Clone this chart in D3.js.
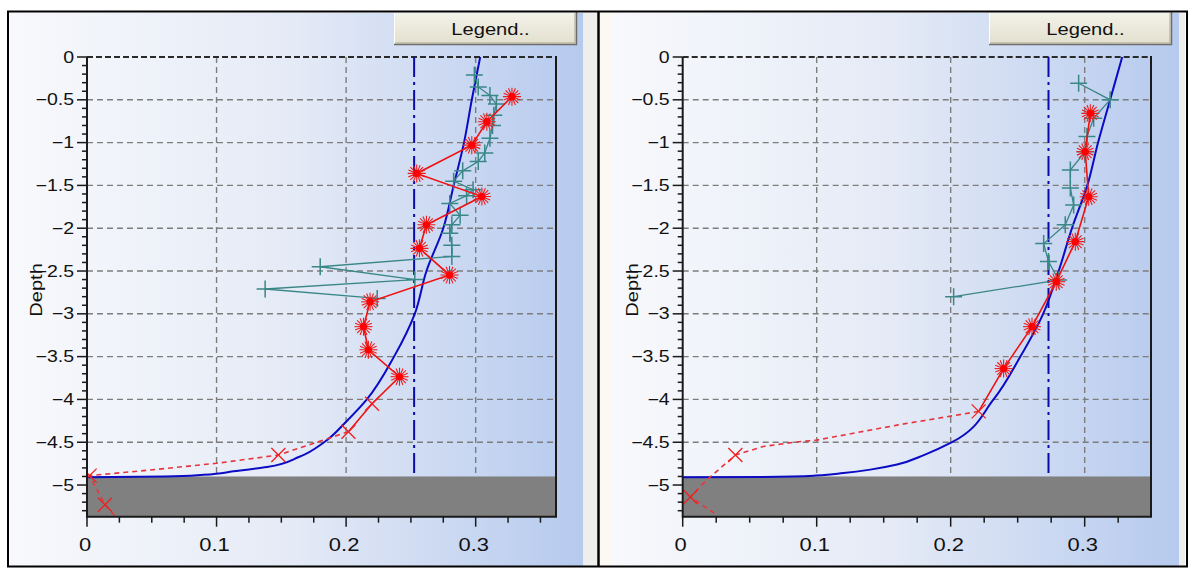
<!DOCTYPE html>
<html><head><meta charset="utf-8">
<script src="https://cdn.jsdelivr.net/npm/d3@7"></script>
<style>body{margin:0;background:#fff}svg{display:block}</style></head>
<body><svg id="c" width="1194" height="570"></svg>
<script>
// ---------- data ----------
const depthMajorTicks = [0,-0.5,-1,-1.5,-2,-2.5,-3,-3.5,-4,-4.5,-5];
const xMajorTicks = [0,0.1,0.2,0.3];
const depthMin = -5.37;
const bedrockDepth = -4.9;
const leftXMax = 0.362;
const rightXMax = 0.3495;
const leftRefX = 0.2525;
const rightRefX = 0.273;

const leftModel = [[0.3035,0],[0.297,-0.5],[0.291,-1.0],[0.283,-1.5],[0.275,-2.0],[0.262,-2.5],[0.253,-3.0],[0.237,-3.5],[0.216,-4.0],[0.200,-4.26],[0.183,-4.5],[0.164,-4.67],[0.139,-4.79],[0.113,-4.84],[0.09,-4.88],[0.06,-4.9],[0.0,-4.91]];
const rightModel = [[0.328,0],[0.319,-0.5],[0.310,-1.0],[0.302,-1.5],[0.2905,-2.0],[0.2806,-2.5],[0.269,-3.0],[0.252,-3.5],[0.232,-4.0],[0.201,-4.5],[0.180,-4.65],[0.16,-4.76],[0.14,-4.82],[0.12,-4.86],[0.099,-4.89],[0.06,-4.905],[0.0,-4.91]];

const leftProbe = [[0.299,-0.21],[0.302,-0.35],[0.311,-0.45],[0.316,-0.55],[0.314,-0.68],[0.313,-0.8],[0.311,-0.95],[0.307,-1.12],[0.302,-1.22],[0.29,-1.33],[0.283,-1.45],[0.298,-1.55],[0.293,-1.62],[0.28,-1.71],[0.288,-1.85],[0.2816,-1.96],[0.28,-2.06],[0.2816,-2.2],[0.2816,-2.33],[0.18,-2.45],[0.253,-2.6],[0.1375,-2.71],[0.224,-2.82]];
const rightProbe = [[0.2955,-0.307],[0.319,-0.50],[0.3067,-0.716],[0.3017,-0.93],[0.3004,-1.106],[0.2893,-1.32],[0.2893,-1.53],[0.2918,-1.73],[0.2855,-1.96],[0.2694,-2.18],[0.273,-2.39],[0.2806,-2.605],[0.2022,-2.8]];

const leftSample = [[0.328,-0.463],[0.3086,-0.756],[0.297,-1.03],[0.2545,-1.36],[0.3048,-1.63],[0.262,-1.96],[0.2566,-2.235],[0.2798,-2.547],[0.2185,-2.86],[0.2134,-3.15],[0.2172,-3.42],[0.2412,-3.735]];
const rightSample = [[0.3042,-0.658],[0.3004,-1.106],[0.303,-1.632],[0.293,-2.157],[0.2788,-2.625],[0.2607,-3.15],[0.2395,-3.64]];

const leftEstimate = [[0.2412,-3.735],[0.220,-4.05],[0.2018,-4.377]];
const rightEstimate = [[0.2395,-3.64],[0.2209,-4.14]];

const leftExtrap = [[0.2018,-4.377],[0.1477,-4.65],[0.1,-4.746],[0.0487,-4.825],[0.002,-4.89],[0.0139,-5.23],[0.022,-5.37]];
const rightExtrap = [[0.2209,-4.14],[0.16,-4.3],[0.1,-4.475],[0.083,-4.5],[0.06,-4.55],[0.0393,-4.65],[0.018,-4.94],[0.0057,-5.14],[0.0257,-5.35]];
const leftCrossPts = [[0.220,-4.05],[0.2018,-4.377],[0.1477,-4.65],[0.002,-4.89],[0.0139,-5.23]];
const rightCrossPts = [[0.2209,-4.14],[0.0393,-4.65],[0.0057,-5.14]];

const yLabel = "Depth";
const legendText = "Legend..";

// ---------- drawing ----------
const svg = d3.select("#c");
const defs = svg.append("defs");
const bg = defs.append("linearGradient").attr("id","bg").attr("x1",0).attr("x2",1).attr("y1",0).attr("y2",0);
bg.append("stop").attr("offset",0).attr("stop-color","#f8f9fc");
bg.append("stop").attr("offset",0.5).attr("stop-color","#e4eaf6");
bg.append("stop").attr("offset",1).attr("stop-color","#b6caee");
const btn = defs.append("linearGradient").attr("id","btn").attr("x1",0).attr("x2",0).attr("y1",0).attr("y2",1);
btn.append("stop").attr("offset",0).attr("stop-color","#f4f3ea");
btn.append("stop").attr("offset",1).attr("stop-color","#e2dfcd");

const plotTop = 57, plotBottom = 516.7;
const y = d3.scaleLinear().domain([0, depthMin]).range([plotTop, plotBottom]);

const panels = [
  {bgL:10, bgR:583, cellR:597, plotL:87, plotR:556, xMax:leftXMax, ref:leftRefX, model:leftModel, probe:leftProbe, sample:leftSample, est:leftEstimate, extrap:leftExtrap, crosses:leftCrossPts},
  {bgL:612, bgR:1179, cellR:1185, plotL:682.7, plotR:1151, xMax:rightXMax, ref:rightRefX, model:rightModel, probe:rightProbe, sample:rightSample, est:rightEstimate, extrap:rightExtrap, crosses:rightCrossPts}
];

function stretchedText(g, x, yy, txt, size, anchor, rot) {
  return g.append("text")
    .attr("transform", `translate(${x},${yy}) rotate(${rot||0}) scale(1.22,1)`)
    .attr("text-anchor", anchor)
    .attr("font-family", "Liberation Sans, Arial, sans-serif")
    .attr("font-size", size).attr("fill", "#111").text(txt);
}

function star(g, cx, cy) {
  const r = 9;
  for (let k = 0; k < 8; k++) {
    const ang = k * Math.PI / 8;
    g.append("line").attr("x1", cx - r*Math.cos(ang)).attr("y1", cy - r*Math.sin(ang))
      .attr("x2", cx + r*Math.cos(ang)).attr("y2", cy + r*Math.sin(ang))
      .attr("stroke", "#ee1c1c").attr("stroke-width", 1.1);
  }
  g.append("circle").attr("cx", cx).attr("cy", cy).attr("r", 3.6).attr("fill", "#f00");
}

panels.forEach((p, i) => {
  const x = d3.scaleLinear().domain([0, p.xMax]).range([p.plotL, p.plotR]);
  const g = svg.append("g");
  // background
  g.append("rect").attr("x", p.bgL).attr("y", 13).attr("width", p.bgR - p.bgL).attr("height", 553).attr("fill", "url(#bg)");
  g.append("rect").attr("x", p.bgR).attr("y", 13).attr("width", p.cellR - p.bgR).attr("height", 553).attr("fill", "#eeeeec");
  if (i === 1) g.append("rect").attr("x", 600).attr("y", 13).attr("width", 12).attr("height", 553).attr("fill", "#fbf9f2");

  const clipId = "clip" + i;
  defs.append("clipPath").attr("id", clipId).append("rect")
    .attr("x", p.plotL).attr("y", plotTop).attr("width", p.plotR - p.plotL).attr("height", plotBottom - plotTop);

  // gridlines
  const grid = g.append("g");
  depthMajorTicks.filter(d => d !== 0).forEach(d => {
    grid.append("line").attr("x1", p.plotL).attr("x2", p.plotR).attr("y1", y(d)).attr("y2", y(d))
      .attr("stroke", "#7d7d7d").attr("stroke-width", 1.4).attr("stroke-dasharray", "6,4");
  });
  xMajorTicks.filter(d => d !== 0).forEach(d => {
    grid.append("line").attr("x1", x(d)).attr("x2", x(d)).attr("y1", plotTop).attr("y2", plotBottom)
      .attr("stroke", "#7d7d7d").attr("stroke-width", 1.4).attr("stroke-dasharray", "6,4");
  });
  // top dashed border
  g.append("line").attr("x1", p.plotL).attr("x2", p.plotR).attr("y1", plotTop).attr("y2", plotTop)
    .attr("stroke", "#2a2a2a").attr("stroke-width", 2).attr("stroke-dasharray", "6,3");

  // bedrock
  g.append("rect").attr("x", p.plotL).attr("y", y(bedrockDepth)).attr("width", p.plotR - p.plotL)
    .attr("height", plotBottom - y(bedrockDepth)).attr("fill", "#808080");

  const data = g.append("g").attr("clip-path", `url(#${clipId})`);
  // reference dash-dot line
  data.append("line").attr("x1", x(p.ref)).attr("x2", x(p.ref)).attr("y1", plotTop).attr("y2", y(bedrockDepth))
    .attr("stroke", "#0a0aa8").attr("stroke-width", 2).attr("stroke-dasharray", "20,5,3,5");

  const smooth = d3.line().x(d => x(d[0])).y(d => y(d[1])).curve(d3.curveMonotoneY);
  const line = d3.line().x(d => x(d[0])).y(d => y(d[1]));
  // model curve
  data.append("path").datum(p.model).attr("d", smooth).attr("fill", "none")
    .attr("stroke", "#0b0bc4").attr("stroke-width", 2);

  // probe (teal +)
  data.append("path").datum(p.probe).attr("d", line).attr("fill", "none").attr("stroke", "#3a8787").attr("stroke-width", 1.3);
  p.probe.forEach(d => {
    const cx = x(d[0]), cy = y(d[1]);
    data.append("path").attr("d", `M${cx-8.5},${cy}H${cx+8.5}M${cx},${cy-8.5}V${cy+8.5}`)
      .attr("stroke", "#3a8787").attr("stroke-width", 1.5);
  });

  // red extrapolated dashed
  data.append("path").datum(p.extrap).attr("d", line).attr("fill", "none").attr("stroke", "#e8343c")
    .attr("stroke-width", 1.6).attr("stroke-dasharray", "5,4");
  // red solid
  data.append("path").datum(p.sample.concat(p.est.slice(1))).attr("d", line).attr("fill", "none")
    .attr("stroke", "#f01010").attr("stroke-width", 1.6);
  p.sample.forEach(d => star(data, x(d[0]), y(d[1])));
  p.crosses.forEach(d => {
    const cx = x(d[0]), cy = y(d[1]), r = 7;
    data.append("path").attr("d", `M${cx-r},${cy-r}L${cx+r},${cy+r}M${cx-r},${cy+r}L${cx+r},${cy-r}`)
      .attr("stroke", "#f02020").attr("stroke-width", 1.3);
  });

  // axes frame
  g.append("line").attr("x1", p.plotL).attr("x2", p.plotL).attr("y1", plotTop).attr("y2", plotBottom + 1).attr("stroke", "#1a1a1a").attr("stroke-width", 2);
  g.append("line").attr("x1", p.plotL).attr("x2", p.plotR + 1).attr("y1", plotBottom).attr("y2", plotBottom).attr("stroke", "#1a1a1a").attr("stroke-width", 2);
  g.append("line").attr("x1", p.plotR).attr("x2", p.plotR).attr("y1", plotTop - 1).attr("y2", plotBottom).attr("stroke", "#1a1a1a").attr("stroke-width", 2);

  // y ticks
  const yMinor = d3.range(0, 54).map(k => -k / 10);
  yMinor.forEach(d => {
    const major = depthMajorTicks.some(m => Math.abs(m - d) < 1e-6);
    g.append("line").attr("x1", p.plotL - (major ? 10 : 5)).attr("x2", p.plotL).attr("y1", y(d)).attr("y2", y(d))
      .attr("stroke", "#1a1a1a").attr("stroke-width", 1.5);
  });
  depthMajorTicks.forEach(d => {
    stretchedText(g, p.plotL - 13, y(d) + 5.5, d3.format("")(d), 16, "end");
  });
  // x ticks
  const xMinor = d3.range(0, 15).map(k => k * 0.025).filter(v => v <= p.xMax);
  xMinor.forEach(d => {
    const major = xMajorTicks.some(m => Math.abs(m - d) < 1e-6);
    g.append("line").attr("x1", x(d)).attr("x2", x(d)).attr("y1", plotBottom).attr("y2", plotBottom + (major ? 10 : 6))
      .attr("stroke", "#1a1a1a").attr("stroke-width", 1.5);
  });
  xMajorTicks.forEach(d => {
    stretchedText(g, x(d) - 2, 551, d3.format("")(d), 18, "middle");
  });
  // y label
  stretchedText(g, p.plotL - 45, 290, yLabel, 16.5, "middle", -90);

  // legend button
  const bx = p.plotR - 162, bw = 183, by = 12, bh = 33;
  const b = g.append("g");
  b.append("rect").attr("x", bx).attr("y", by).attr("width", bw).attr("height", bh).attr("fill", "url(#btn)");
  b.append("path").attr("d", `M${bx+0.5},${by+bh}V${by+0.5}H${bx+bw}`).attr("stroke", "#ffffff").attr("fill", "none");
  b.append("path").attr("d", `M${bx},${by+bh-0.5}H${bx+bw-0.5}V${by}`).attr("stroke", "#6d6d6d").attr("stroke-width", 1.5).attr("fill", "none");
  b.append("path").attr("d", `M${bx+1},${by+bh-2}H${bx+bw-2}V${by+1}`).attr("stroke", "#a9a697").attr("fill", "none");
  stretchedText(b, bx + bw / 2 + 5, by + 23, legendText, 16.5, "middle");
});

// table frame
svg.append("rect").attr("x", 8).attr("y", 11.5).attr("width", 1179).attr("height", 555).attr("fill", "none").attr("stroke", "#000").attr("stroke-width", 2);
svg.append("line").attr("x1", 598.5).attr("x2", 598.5).attr("y1", 11).attr("y2", 567).attr("stroke", "#000").attr("stroke-width", 2.5);
</script></body></html>
